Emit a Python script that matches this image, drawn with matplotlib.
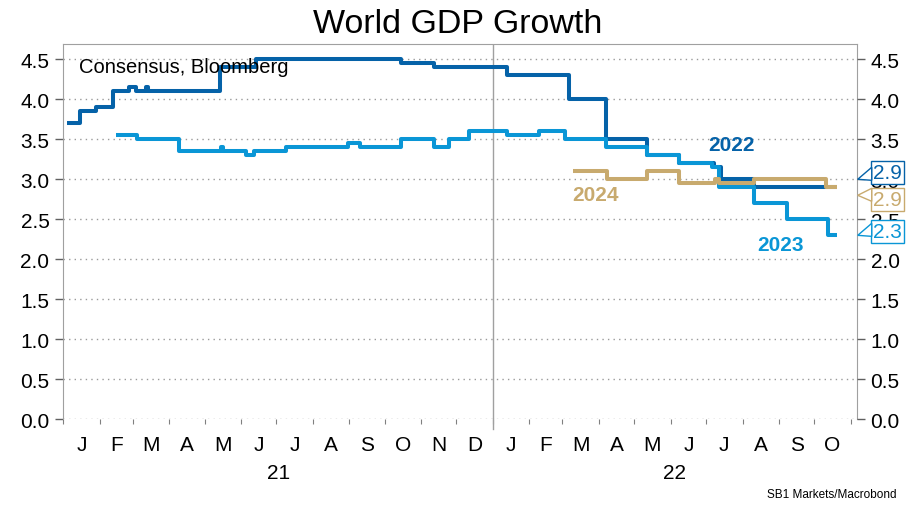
import numpy as np
import pandas as pd
import matplotlib
matplotlib.use("Agg")
import matplotlib.pyplot as plt
from matplotlib.patches import Polygon
from matplotlib.transforms import IdentityTransform

# consensus forecasts, step changes (date, value)
dates_2022 = ["2021-01-04", "2021-01-15", "2021-01-29", "2021-02-12", "2021-02-26",
              "2021-03-04", "2021-03-12", "2021-03-14", "2021-05-14", "2021-06-14",
              "2021-10-15", "2021-11-12", "2022-01-13", "2022-03-07", "2022-04-07",
              "2022-05-12", "2022-06-08", "2022-07-08", "2022-07-14", "2022-08-11",
              "2022-10-20"]
vals_2022 = [3.7, 3.85, 3.9, 4.1, 4.15, 4.1, 4.15, 4.1, 4.4, 4.5,
             4.45, 4.4, 4.3, 4.0, 3.5, 3.3, 3.2, 3.15, 3.0, 2.9, 2.9]

dates_2023 = ["2021-02-15", "2021-03-05", "2021-04-09", "2021-05-15", "2021-05-17",
              "2021-06-05", "2021-06-12", "2021-07-09", "2021-08-31", "2021-09-10",
              "2021-10-15", "2021-11-12", "2021-11-25", "2021-12-12", "2022-01-13",
              "2022-02-09", "2022-03-03", "2022-04-07", "2022-05-12", "2022-06-08",
              "2022-07-06", "2022-07-12", "2022-08-11", "2022-09-08", "2022-10-13",
              "2022-10-20"]
vals_2023 = [3.55, 3.5, 3.35, 3.4, 3.35, 3.3, 3.35, 3.4, 3.45, 3.4,
             3.5, 3.4, 3.5, 3.6, 3.55, 3.6, 3.5, 3.4, 3.3, 3.2,
             3.15, 2.9, 2.7, 2.5, 2.3, 2.3]

dates_2024 = ["2022-03-10", "2022-04-08", "2022-05-12", "2022-06-08", "2022-07-09",
              "2022-07-12", "2022-08-11", "2022-10-11", "2022-10-20"]
vals_2024 = [3.1, 3.0, 3.1, 2.95, 3.0, 2.95, 3.0, 2.9, 2.9]

series_names = ["2022", "2023", "2024"]
colors = ["#0562a8", "#0a96d6", "#c8aa6e"]
# where each name label sits (date, value)
name_pos = [("2022-07-23", 3.43), ("2022-09-02", 2.18), ("2022-03-29", 2.81)]
# right-hand value boxes: shown value and the level the pointer is moved to
last_vals = [2.9, 2.3, 2.9]
box_levels = [3.0, 2.3, 2.8]
box_shift = [7, 4, -4]      # pixels, box centre relative to pointer tip
ptr_low = [-1, -1, -6]      # pixels, lower corner of pointer at box edge

months = ["J", "F", "M", "A", "M", "J", "J", "A", "S", "O", "N", "D",
          "J", "F", "M", "A", "M", "J", "J", "A", "S", "O"]
years = ["21", "22"]

plt.rcParams["font.family"] = ["Liberation Sans", "DejaVu Sans"]

fig = plt.figure(figsize=(9.16, 5.1), dpi=100)
ax = fig.add_axes([0.0691, 0.1755, 0.8662, 0.7363])

xmin = pd.Timestamp("2021-01-01")
xmax = pd.Timestamp("2022-11-06")

data = [(dates_2022, vals_2022), (dates_2023, vals_2023), (dates_2024, vals_2024)]
zs = [3, 4, 5]
for (d, v), c, z in zip(data, colors, zs):
    ax.step(pd.to_datetime(d), v, where="post", color=c, lw=2.9,
            solid_joinstyle="round", solid_capstyle="butt", zorder=z)

ax.set_xlim(xmin, xmax)
ax.set_ylim(0, 4.69)
yt = np.arange(0, 4.51, 0.5)
ax.set_yticks(yt)
ax.set_yticklabels([f"{t:.1f}" for t in yt])
ax.grid(axis="y", color="#9a9a9a", ls=(0, (1, 3)), lw=1.0)
ax.set_axisbelow(True)

for s in ["left", "right", "top"]:
    ax.spines[s].set_color("#a0a0a0")
ax.spines["bottom"].set_visible(False)

ax2 = ax.twinx()
ax2.set_ylim(ax.get_ylim())
ax2.set_yticks(yt)
ax2.set_yticklabels([f"{t:.1f}" for t in yt])
for s in ax2.spines.values():
    s.set_visible(False)

for a in (ax, ax2):
    a.tick_params(axis="y", labelsize=15, length=6, width=1, color="#606060", pad=4)

# month ticks at boundaries, labels centred in the month
mstarts = pd.date_range("2021-01-01", "2022-11-01", freq="MS")
ax.set_xticks(mstarts)
ax.set_xticklabels([])
ax.tick_params(axis="x", length=3.5, width=0.8, color="#808080")
mids = [s + (e - s) / 2 for s, e in zip(mstarts[:-1], mstarts[1:])]
ax.set_xticks(mids, minor=True)
ax.set_xticklabels(months, minor=True)
ax.tick_params(axis="x", which="minor", length=0, labelsize=15, pad=11)

# year divider
ydiv = pd.Timestamp("2022-01-01")
ax.axvline(ydiv, color="#a0a0a0", lw=1, zorder=1)
ax.plot([ydiv, ydiv], [0, -0.12], color="#a0a0a0", lw=1, clip_on=False)

# year labels at the centre of the visible part of each year
yr_spans = [(xmin, ydiv), (ydiv, xmax)]
for lab, (a0, a1) in zip(years, yr_spans):
    ax.text(a0 + (a1 - a0) / 2, -0.66, lab, ha="center", va="center", fontsize=15)

# series name labels
for n, (px, pv), c in zip(series_names, name_pos, colors):
    ax.text(pd.Timestamp(px), pv, n, color=c, fontsize=15, fontweight="bold",
            ha="center", va="center")

# last value boxes to the right of the axis, drawn over the right tick labels
bt = ax2.get_yaxis_transform()
for v, lvl, sh, lo, c in zip(last_vals, box_levels, box_shift, ptr_low, colors):
    tx, ty = bt.transform((1.0, lvl))
    verts = [(tx + 1, ty), (tx + 15, ty + lo), (tx + 15, ty + lo + 13)]
    tri = Polygon(verts, closed=True, transform=IdentityTransform(),
                  facecolor="white", edgecolor=c, lw=1, clip_on=False, zorder=7)
    ax2.add_patch(tri)
    ax2.annotate(f"{v:.1f}", xy=(1.0, lvl), xycoords=bt,
                 xytext=(16, sh), textcoords="offset pixels",
                 ha="left", va="center", fontsize=15, color=c,
                 bbox=dict(boxstyle="square,pad=0.1", fc="white", ec=c, lw=1),
                 annotation_clip=False, zorder=6)

ax.text(0.02, 0.965, "Consensus, Bloomberg", transform=ax.transAxes,
        fontsize=14.5, ha="left", va="top")
fig.text(0.5, 0.952, "World GDP Growth", ha="center", va="center", fontsize=24.5)
fig.text(0.979, 0.018, "SB1 Markets/Macrobond", ha="right", va="bottom", fontsize=8.5)

fig.savefig("out.png", dpi=100)
